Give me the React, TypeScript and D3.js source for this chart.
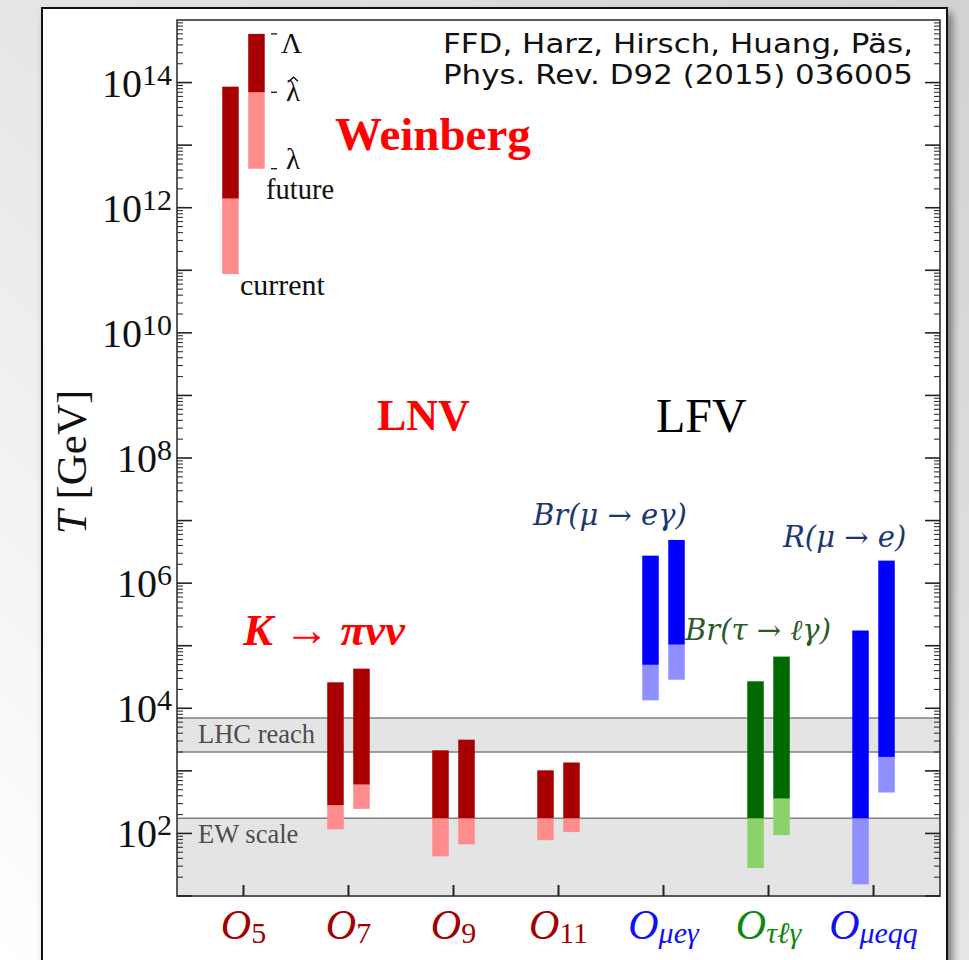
import React from "react";
import * as d3 from "d3";

// Effective operators along the x axis
const operators = ["O5", "O7", "O9", "O11", "Omueg", "Otaulg", "Omueqq"];
const operatorSub = ["5", "7", "9", "11", "μeγ", "τℓγ", "μeqq"];
const operatorSubItalic = [false, false, false, false, true, true, true];
const operatorGroup = ["lnv", "lnv", "lnv", "lnv", "mu", "tau", "mu"];

// Washout temperature ranges (GeV): each column has a dark upper part
// (upper -> split) and a light lower part (split -> lower)
const barOperator = ["O5", "O5", "O7", "O7", "O9", "O9", "O11", "O11", "Omueg", "Omueg", "Otaulg", "Otaulg", "Omueqq", "Omueqq"];
const barSide = [-1, 1, -1, 1, -1, 1, -1, 1, -1, 1, -1, 1, -1, 1];
const barUpper = [8.6e13, 6e14, 2.6e4, 4.3e4, 2130, 3150, 1020, 1360, 2.75e6, 4.9e6, 2.7e4, 6.7e4, 1.75e5, 2.29e6];
const barSplit = [1.4e12, 7e13, 283, 604, 175, 175, 175, 175, 4.95e4, 1.04e5, 175, 361, 175, 1670];
const barLower = [8.7e10, 4.2e12, 116, 247, 43, 67, 78, 105, 1.34e4, 2.86e4, 28, 94, 15.4, 451];

// Reference energy bands (GeV)
const bandNames = ["LHC reach", "EW scale"];
const bandLow = [2000, 10];
const bandHigh = [7000, 175];

// Labelled decades on the y axis
const labelledDecades = [2, 4, 6, 8, 10, 12, 14];
const tickDecades = d3.range(1, 15);
const minorMultipliers = d3.range(2, 10);

// Scale symbols attached to the "future" Weinberg column
const scaleSymbols = ["Λ", "λ", "λ"];
const scaleSymbolHat = [false, true, false];

const palette: Record<string, { dark: string; light: string; label: string }> = {
  lnv: { dark: "#a80000", light: "#ff8c8c", label: "#a00000" },
  mu: { dark: "#0000ff", light: "#8f8fff", label: "#1010f0" },
  tau: { dark: "#006a00", light: "#8cd26a", label: "#0e880e" },
};

const W = 969;
const H = 960;
const plot = { left: 177, right: 940, top: 20, bottom: 896 };
const serif = "'Liberation Serif', 'Times New Roman', serif";
const mathSerif = "'DejaVu Serif', serif";

export default function App() {
  const y = d3.scaleLog().domain([10, 1e15]).range([plot.bottom, plot.top]);
  const x = d3
    .scalePoint<string>()
    .domain(operators)
    .range([plot.left, plot.right])
    .padding(0.633);
  const barWidth = 16.5;
  const barOffset = 13;

  const minorTicks = tickDecades.flatMap((d) => minorMultipliers.map((k) => k * 10 ** d));
  const majorTicks = tickDecades.map((d) => 10 ** d);

  const bars = barOperator.map((op, i) => {
    const group = operatorGroup[operators.indexOf(op)];
    const cx = (x(op) as number) + barSide[i] * barOffset;
    return { cx, group, upper: barUpper[i], split: barSplit[i], lower: barLower[i] };
  });

  const futureIdx = 1;
  const symbolValues = [barUpper[futureIdx], barSplit[futureIdx], barLower[futureIdx]];
  const symbolDy = [19, 9, 0];
  const symbolDx = [281, 286, 286];

  return (
    <svg
      width={W}
      height={H}
      viewBox={`0 0 ${W} ${H}`}
      style={{ position: "absolute", left: 0, top: 0, display: "block" }}
    >
      <defs>
        <linearGradient id="page-bg" x1="0" y1="1" x2="1" y2="0">
          <stop offset="0" stopColor="#ffffff" />
          <stop offset="0.5" stopColor="#e6e6e6" />
          <stop offset="1" stopColor="#d2d2d2" />
        </linearGradient>
        <filter id="card-shadow" x="-10%" y="-10%" width="120%" height="120%">
          <feGaussianBlur stdDeviation="4" />
        </filter>
      </defs>

      <rect x={0} y={0} width={W} height={H} fill="url(#page-bg)" />
      <rect x={46} y={13} width={906} height={970} fill="#6e6e6e" filter="url(#card-shadow)" />
      <rect x={42} y={8} width={905} height={970} fill="#ffffff" stroke="#111" strokeWidth={2} />

      {/* energy bands */}
      {bandNames.map((name, i) => (
        <g key={name}>
          <rect
            x={plot.left}
            y={y(bandHigh[i])}
            width={plot.right - plot.left}
            height={y(bandLow[i]) - y(bandHigh[i])}
            fill="#e4e4e4"
          />
          <line x1={plot.left} x2={plot.right} y1={y(bandHigh[i])} y2={y(bandHigh[i])} stroke="#808080" strokeWidth={1.5} />
          {bandLow[i] > 10 && (
            <line x1={plot.left} x2={plot.right} y1={y(bandLow[i])} y2={y(bandLow[i])} stroke="#808080" strokeWidth={1.5} />
          )}
          <text
            x={198}
            y={y(bandHigh[i]) + 25}
            fontFamily={serif}
            fontSize={26.5}
            fill="#4d4d4d"
          >
            {name}
          </text>
        </g>
      ))}

      {/* temperature ranges */}
      {bars.map((b, i) => (
        <g key={i}>
          <rect
            x={b.cx - barWidth / 2}
            y={y(b.split)}
            width={barWidth}
            height={y(b.lower) - y(b.split)}
            fill={palette[b.group].light}
          />
          <rect
            x={b.cx - barWidth / 2}
            y={y(b.upper)}
            width={barWidth}
            height={y(b.split) - y(b.upper)}
            fill={palette[b.group].dark}
          />
        </g>
      ))}

      {/* frame */}
      <rect
        x={plot.left}
        y={plot.top}
        width={plot.right - plot.left}
        height={plot.bottom - plot.top}
        fill="none"
        stroke="#333"
        strokeWidth={1.6}
      />

      {/* y ticks, both sides */}
      {majorTicks.map((v) => (
        <g key={`M${v}`}>
          <line x1={plot.left} x2={plot.left + 15} y1={y(v)} y2={y(v)} stroke="#222" strokeWidth={1.6} />
          <line x1={plot.right} x2={plot.right - 15} y1={y(v)} y2={y(v)} stroke="#222" strokeWidth={1.6} />
        </g>
      ))}
      {minorTicks.map((v) => (
        <g key={`m${v}`}>
          <line x1={plot.left} x2={plot.left + 6} y1={y(v)} y2={y(v)} stroke="#333" strokeWidth={1.1} />
          <line x1={plot.right} x2={plot.right - 6} y1={y(v)} y2={y(v)} stroke="#333" strokeWidth={1.1} />
        </g>
      ))}

      {/* y tick labels */}
      {labelledDecades.map((d) => (
        <text
          key={d}
          x={172}
          y={y(10 ** d) + 14}
          textAnchor="end"
          fontFamily={serif}
          fontSize={40}
          fill="#111"
        >
          10
          <tspan fontSize={30} dy={-12}>
            {d}
          </tspan>
        </text>
      ))}

      {/* y axis title */}
      <text
        transform={`translate(86, 462) rotate(-90)`}
        textAnchor="middle"
        fontFamily={serif}
        fontSize={43}
        fill="#111"
      >
        <tspan fontStyle="italic">T</tspan> [GeV]
      </text>

      {/* x ticks and labels */}
      {operators.map((op, i) => (
        <g key={op}>
          <line
            x1={x(op)}
            x2={x(op)}
            y1={plot.bottom}
            y2={plot.bottom - 11}
            stroke="#222"
            strokeWidth={2}
          />
          <text
            x={x(op)}
            y={939}
            textAnchor="middle"
            fontFamily={serif}
            fill={palette[operatorGroup[i]].label}
          >
            <tspan fontStyle="italic" fontSize={42}>
              O
            </tspan>
            <tspan fontSize={30} dy={4} fontStyle={operatorSubItalic[i] ? "italic" : "normal"}>
              {operatorSub[i]}
            </tspan>
          </text>
        </g>
      ))}

      {/* Weinberg column annotations */}
      {symbolValues.map((v, i) => (
        <g key={i}>
          <line x1={271} x2={277} y1={y(v)} y2={y(v)} stroke="#222" strokeWidth={1.4} />
          <text x={symbolDx[i]} y={y(v) + symbolDy[i]} fontFamily={serif} fontSize={29} fill="#111">
            {scaleSymbols[i]}
          </text>
          {scaleSymbolHat[i] && (
            <path
              d={`M${symbolDx[i] + 3},${y(v) - 11} L${symbolDx[i] + 7.5},${y(v) - 15} L${symbolDx[i] + 12},${y(v) - 11}`}
              fill="none"
              stroke="#111"
              strokeWidth={1.4}
            />
          )}
        </g>
      ))}
      <text x={266} y={199} fontFamily={serif} fontSize={28.5} fill="#111">
        future
      </text>
      <text x={240} y={295} fontFamily={serif} fontSize={30} fill="#111">
        current
      </text>

      {/* region titles */}
      <text x={335} y={150} fontFamily={serif} fontWeight="bold" fontSize={47} fill="#ff0000">
        Weinberg
      </text>
      <text x={377} y={430} fontFamily={serif} fontWeight="bold" fontSize={44} fill="#ff0000">
        LNV
      </text>
      <text x={656} y={432} fontFamily={serif} fontSize={48} fill="#000">
        LFV
      </text>
      <text x={243} y={645} fontFamily={serif} fontWeight="bold" fontStyle="italic" fontSize={45} fill="#ff0000">
        K → πνν
      </text>

      {/* observable labels */}
      <text x={533} y={525} fontFamily={mathSerif} fontStyle="italic" fontSize={29} fill="#1c3670">
        Br(μ → eγ)
      </text>
      <text x={685} y={640} fontFamily={mathSerif} fontStyle="italic" fontSize={29} fill="#2b5a2b">
        Br(τ → ℓγ)
      </text>
      <text x={783} y={547} fontFamily={mathSerif} fontStyle="italic" fontSize={29} fill="#1c3670">
        R(μ → e)
      </text>

      {/* citation */}
      <text
        x={443}
        y={53}
        fontFamily="'DejaVu Sans', sans-serif"
        fontSize={26}
        fill="#111"
        textLength={470}
        lengthAdjust="spacingAndGlyphs"
      >
        FFD, Harz, Hirsch, Huang, Päs,
      </text>
      <text
        x={443}
        y={83.5}
        fontFamily="'DejaVu Sans', sans-serif"
        fontSize={26}
        fill="#111"
        textLength={470}
        lengthAdjust="spacingAndGlyphs"
      >
        Phys. Rev. D92 (2015) 036005
      </text>
    </svg>
  );
}
